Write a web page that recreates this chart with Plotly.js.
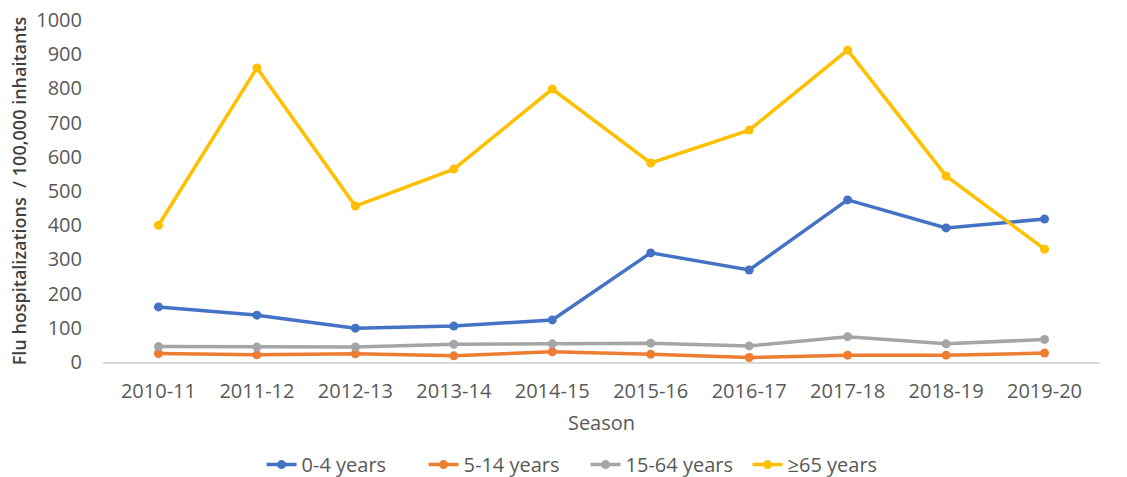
<!DOCTYPE html>
<html>
<head>
<meta charset="utf-8">
<script src="https://cdn.plot.ly/plotly-3.0.1.min.js"></script>
<style>html,body{margin:0;padding:0;background:#fff;}#chart{width:1127px;height:477px;}</style>
</head>
<body>
<div id="chart"></div>
<script>
const seasons = ["2010-11","2011-12","2012-13","2013-14","2014-15","2015-16","2016-17","2017-18","2018-19","2019-20"];
const age0to4 = [161, 137, 99, 105, 123, 319, 269, 474, 392, 418];
const age5to14 = [25, 21, 24, 18, 30, 23, 13, 20, 20, 26];
const age15to64 = [45, 44, 44, 52, 53, 55, 47, 74, 53, 66];
const age65plus = [400, 860, 456, 564, 798, 582, 678, 912, 544, 330];
const seriesNames = ["0-4 years","5-14 years","15-64 years","\u226565 years"];
const seriesColors = ["#4472C4","#ED7D31","#A5A5A5","#FFC000"];
const seriesData = [age0to4, age5to14, age15to64, age65plus];

const traces = seriesData.map((vals, i) => ({
  x: seasons, y: vals, name: seriesNames[i], type: 'scatter', mode: 'lines+markers',
  line: {color: seriesColors[i], width: 3.5},
  marker: {color: seriesColors[i], size: 9}
}));

const fam = '"Open Sans", sans-serif';
const font = {family: fam, size: 20, color: '#595959'};
const layout = {
  width: 1127, height: 477,
  margin: {l: 103, r: 27, t: 20, b: 115, autoexpand: false},
  paper_bgcolor: '#fff', plot_bgcolor: '#fff',
  font: font,
  showlegend: true,
  legend: {orientation: 'h', x: 0.484, xanchor: 'center', y: -0.30, yanchor: 'middle', font: font, traceorder: 'normal', itemwidth: 30, entrywidth: 117, entrywidthmode: 'pixels'},
  xaxis: {
    type: 'category', showgrid: false, zeroline: false,
    showline: true, linecolor: '#D9D9D9', linewidth: 1.5,
    ticks: '', tickfont: font, ticklabelstandoff: 10,
    title: {text: 'Season', font: font, standoff: 13}
  },
  yaxis: {
    range: [0, 1000], dtick: 100, showgrid: false, zeroline: false, showline: false,
    ticks: '', tickfont: font, ticklabelstandoff: 20,
    title: {text: 'Flu hospitalizations &nbsp;/ 100,000 inhaitants', font: {family: fam, size: 18, color: '#404040', weight: 600}, standoff: 4}
  }
};
Plotly.newPlot('chart', traces, layout, {displayModeBar: false, staticPlot: true});
</script>
</body>
</html>
